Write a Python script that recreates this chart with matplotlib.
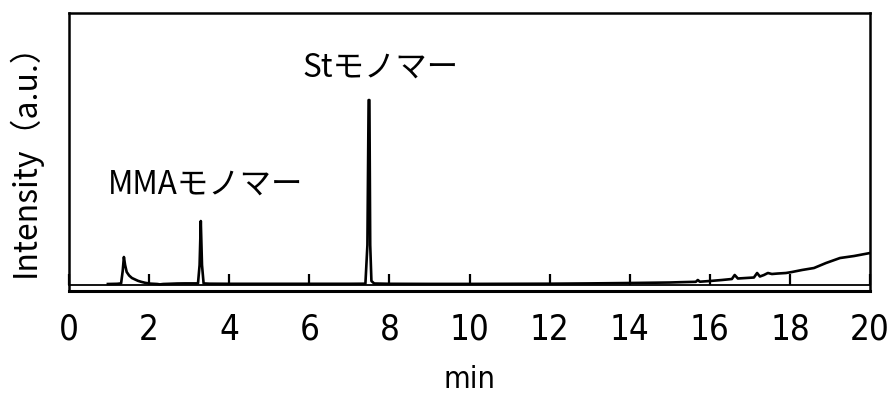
import matplotlib
matplotlib.use("Agg")
import matplotlib.pyplot as plt

# chromatogram trace (time in min, intensity in a.u.)
time_min = [
    0.97, 1.20, 1.30, 1.34, 1.37, 1.40, 1.44, 1.50, 1.57, 1.65, 1.72, 1.80,
    1.90, 2.02, 2.20, 2.27, 2.35, 2.50, 2.70, 2.90, 3.10, 3.22, 3.26, 3.29,
    3.32, 3.36, 3.50, 4.00, 5.00, 6.00, 7.00, 7.40, 7.45, 7.48, 7.50, 7.52,
    7.55, 7.62, 8.00, 9.00, 10.00, 11.00, 12.00, 13.00, 14.00, 15.00, 15.25,
    15.65, 15.70, 15.75, 16.00, 16.30, 16.55, 16.62, 16.70, 16.90, 17.10,
    17.18, 17.25, 17.35, 17.45, 17.55, 17.70, 17.90, 18.05, 18.30, 18.60,
    18.90, 19.25, 19.60, 20.00,
]
intensity = [
    1.0, 1.2, 1.6, 14.0, 28.0, 20.0, 13.0, 9.5, 7.0, 5.5, 4.2, 3.2,
    2.2, 1.4, 1.0, 0.6, 1.0, 1.2, 1.5, 1.6, 1.6, 1.6, 20.0, 64.0,
    20.0, 1.6, 1.3, 1.2, 1.2, 1.2, 1.2, 1.3, 40.0, 185.0, 185.0, 40.0,
    4.0, 1.5, 1.2, 1.1, 1.1, 1.2, 1.3, 1.6, 2.0, 2.5, 2.8,
    3.2, 5.0, 3.3, 4.0, 5.0, 6.0, 10.0, 6.5, 7.0, 7.5,
    12.0, 8.5, 10.0, 12.0, 11.0, 11.5, 12.0, 13.0, 15.0, 17.0,
    22.0, 27.0, 29.0, 32.0,
]

x_ticks = [0, 2, 4, 6, 8, 10, 12, 14, 16, 18, 20]
x_tick_labels = [str(t) for t in x_ticks]

labels = ["MMAモノマー", "Stモノマー"]
label_x = [0.97, 5.84]
label_y = [100, 217]

JP = ["Noto Sans CJK JP", "DejaVu Sans"]
NARROW = ["DejaVu Sans"]

fig = plt.figure(figsize=(8.93, 3.97), dpi=100)
ax = fig.add_axes([0.0773, 0.267, 0.897, 0.700])

ax.plot(time_min, intensity, color="black", lw=1.9, solid_joinstyle="round")

ax.set_xlim(0, 20)
ax.set_ylim(-6, 272)

for sp in ax.spines.values():
    sp.set_linewidth(1.8)
ax.spines["bottom"].set_position(("data", 0))
ax.spines["bottom"].set_linewidth(1.3)
# outer frame line at the bottom of the box
ax.plot([0, 1], [0, 0], transform=ax.transAxes, color="black", lw=2.2,
        clip_on=False)

ax.set_yticks([])
ax.set_xticks(x_ticks)
ax.set_xticklabels(x_tick_labels, family=NARROW, fontstretch="condensed",
                   fontsize=25)
ax.tick_params(axis="x", direction="in", length=8, width=1.6, pad=20)

ax.set_xlabel("min", family=NARROW, fontstretch="condensed", fontsize=22,
              labelpad=13)
ax.set_ylabel("Intensity（a.u.）", family=JP, fontsize=23, labelpad=20)

for txt, tx, ty in zip(labels, label_x, label_y):
    ax.text(tx, ty, txt, family=JP, fontsize=22.6, ha="left", va="center")

fig.savefig("out.png", dpi=100)
